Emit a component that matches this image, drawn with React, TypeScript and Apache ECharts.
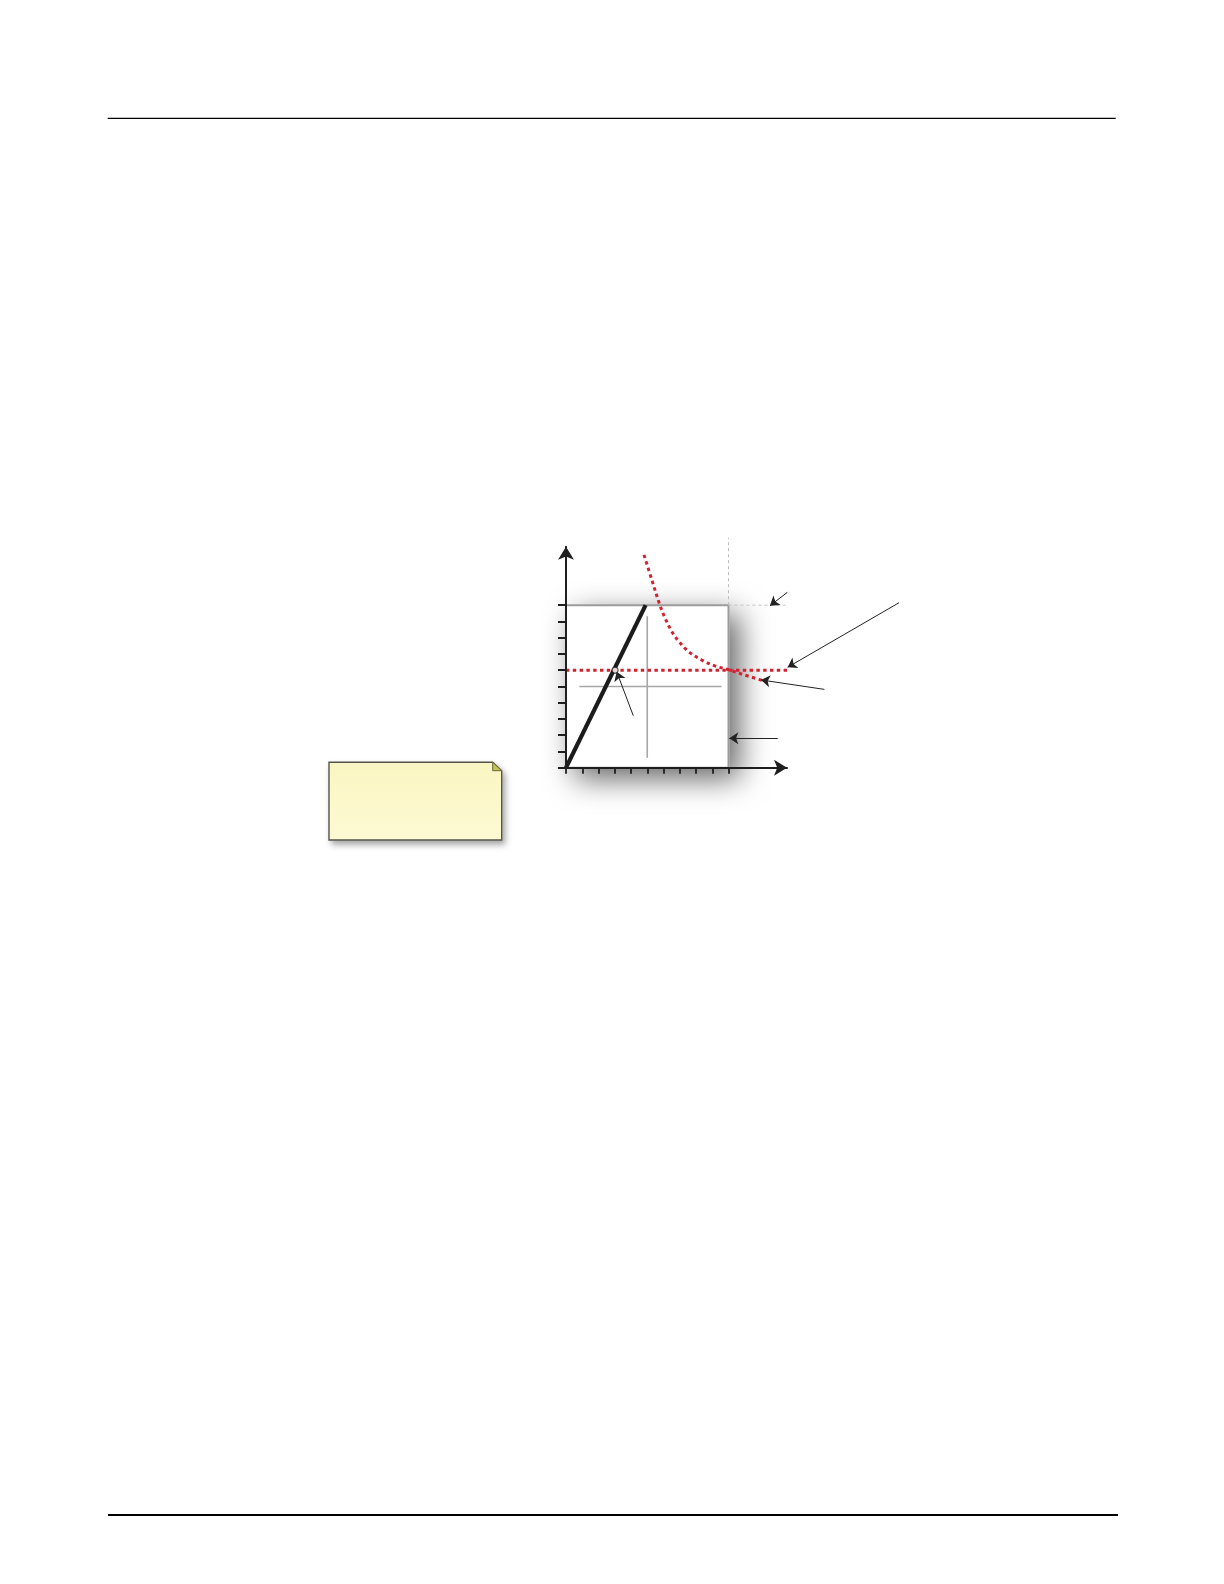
import { useEffect, useRef } from "react";
import * as echarts from "echarts";

// values, in chart units (box = 0..10 on both axes)
const boxTicks = [0, 10];
const rampLine = [[0, 0], [4.9, 10]];
const demandCurve = [
  [4.8, 13.1], [5.3, 11.5], [5.78, 10.0], [6.1, 9.2], [6.5, 8.4], [7.0, 7.7],
  [7.6, 7.1], [8.4, 6.6], [9.2, 6.25], [9.97, 6.04], [11.0, 5.7], [12.05, 5.38],
];
const levelLine = [[0, 6], [13.64, 6]];
const crossH = [[0.82, 5], [9.57, 5]];
const crossV = [[5, 0.61], [5, 9.32]];
const meetPoint = [[3.02, 6.0]];
const guideV = [[10, 10], [10, 14.15]];
const guideH = [[10, 10], [13.89, 10]];
const pointers = [
  [[13.62, 10.79], [12.55, 9.97]],
  [[20.49, 10.15], [13.64, 6.18]],
  [[15.9, 4.82], [12.0, 5.4]],
  [[13.03, 1.81], [10.05, 1.81]],
  [[4.14, 3.2], [3.12, 5.91]],
];
const axisEnd = 13.6;

// layout (pixels)
const UNIT = 16.25;
const X0 = 566;
const Y0 = 767.7;
const RED = "#d3222f";
const GREY = "#a6a6a6";

function seg(data: number[][], style: object, z = 2) {
  return {
    type: "line",
    data,
    showSymbol: false,
    clip: false,
    silent: true,
    z,
    lineStyle: style,
  };
}

export default function App() {
  const ref = useRef<HTMLDivElement | null>(null);

  useEffect(() => {
    if (!ref.current) return;
    const chart = echarts.init(ref.current, undefined, { renderer: "svg" });
    const span = boxTicks[1] - boxTicks[0];
    const hidden = { show: false };

    chart.setOption({
      animation: false,
      backgroundColor: "#fff",
      grid: [
        {
          left: X0, top: Y0 - axisEnd * UNIT, width: axisEnd * UNIT, height: axisEnd * UNIT,
          outerBoundsMode: "none",
        },
        {
          left: X0, top: Y0 - span * UNIT, width: span * UNIT, height: span * UNIT,
          outerBoundsMode: "none",
          show: true, backgroundColor: "#fff", borderColor: "#9b9b9b", borderWidth: 2,
          shadowBlur: 30, shadowColor: "rgba(0,0,0,0.6)", shadowOffsetX: 10, shadowOffsetY: 10,
        },
      ],
      xAxis: [
        {
          type: "value", gridIndex: 0, min: 0, max: axisEnd, z: 5,
          axisLine: {
            show: true, onZero: false, symbol: ["none", "arrow"], symbolSize: [12, 13],
            lineStyle: { color: "#1e1e1e", width: 2 },
          },
          axisTick: hidden, axisLabel: hidden, splitLine: hidden,
        },
        {
          type: "value", gridIndex: 1, min: boxTicks[0], max: boxTicks[1], interval: 1, z: 4,
          axisLine: hidden, axisLabel: hidden, splitLine: hidden,
          axisTick: { show: true, length: 6, lineStyle: { color: "#1e1e1e", width: 1.8 } },
        },
      ],
      yAxis: [
        {
          type: "value", gridIndex: 0, min: 0, max: axisEnd, z: 5,
          axisLine: {
            show: true, onZero: false, symbol: ["none", "arrow"], symbolSize: [12, 13],
            lineStyle: { color: "#1e1e1e", width: 2 },
          },
          axisTick: hidden, axisLabel: hidden, splitLine: hidden,
        },
        {
          type: "value", gridIndex: 1, min: boxTicks[0], max: boxTicks[1], interval: 1, z: 4,
          axisLine: hidden, axisLabel: hidden, splitLine: hidden,
          axisTick: { show: true, length: 8, lineStyle: { color: "#1e1e1e", width: 2 } },
        },
      ],
      series: [
        seg(guideV, { color: "#bdbdbd", width: 1, type: [3, 3] }, 1),
        seg(guideH, { color: "#c4c4c4", width: 1, type: [3, 3] }, 1),
        seg(crossH, { color: GREY, width: 1.6 }),
        seg(crossV, { color: GREY, width: 1.6 }),
        seg(rampLine, { color: "#1b1b1b", width: 4.2 }, 3),
        { ...seg(demandCurve, { color: RED, width: 3, type: [3.4, 3.4] }, 3), smooth: 0.35 },
        seg(levelLine, { color: RED, width: 3, type: [3.4, 3.4] }, 3),
        {
          type: "scatter", data: meetPoint, symbol: "circle", symbolSize: 6, z: 6, silent: true,
          itemStyle: { color: "#fff", borderColor: "#1b1b1b", borderWidth: 1.2 },
        },
        {
          type: "lines", coordinateSystem: "cartesian2d", clip: false, silent: true, z: 6,
          polyline: false,
          symbol: ["none", "arrow"], symbolSize: 9,
          lineStyle: { color: "#222", width: 1, opacity: 1 },
          data: pointers.map((p) => ({ coords: p })),
        },
      ],
      graphic: [
        { type: "line", shape: { x1: 107.7, y1: 118.3, x2: 1115.7, y2: 118.3 }, style: { stroke: "#000", lineWidth: 1.3 } },
        { type: "line", shape: { x1: 108, y1: 1515, x2: 1118, y2: 1515 }, style: { stroke: "#000", lineWidth: 2 } },
        {
          type: "group",
          children: [
            {
              type: "polygon",
              shape: { points: [[329, 762.3], [492.7, 762.3], [501.7, 770.7], [501.7, 840], [329, 840]] },
              style: {
                fill: new echarts.graphic.LinearGradient(0, 0, 0, 1, [
                  { offset: 0, color: "#faf6c2" },
                  { offset: 1, color: "#fdfad4" },
                ]),
                stroke: "#55554a", lineWidth: 1.4,
                shadowBlur: 6, shadowColor: "rgba(0,0,0,0.35)", shadowOffsetX: 3, shadowOffsetY: 4,
              },
            },
            {
              type: "polygon",
              shape: { points: [[492.7, 762.3], [492.7, 770.7], [501.7, 770.7]] },
              style: { fill: "#c6c255", stroke: "#6a6840", lineWidth: 1 },
            },
          ],
        },
      ],
    });

    return () => chart.dispose();
  }, []);

  return <div ref={ref} style={{ position: "absolute", left: 0, top: 0, width: 1224, height: 1584 }} />;
}
